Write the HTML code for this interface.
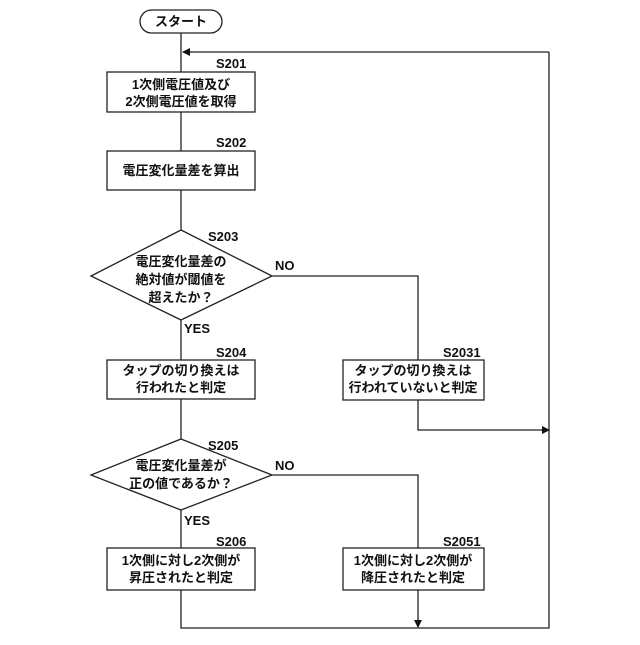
<!DOCTYPE html>
<html><head><meta charset="utf-8"><style>
body{margin:0;background:#fff}
text{font-family:"Liberation Sans","Noto Sans CJK JP",sans-serif;fill:#111}
.j{font-size:13px;font-weight:bold}
.l{font-size:13px;font-weight:bold}
</style></head><body>
<svg width="640" height="640" viewBox="0 0 640 640" xmlns="http://www.w3.org/2000/svg">
<defs><marker id="a" markerWidth="8" markerHeight="8" refX="7" refY="4" orient="auto" markerUnits="userSpaceOnUse"><path d="M0,0 L8,4 L0,8 z" fill="#111"/></marker></defs>
<g stroke="#222" stroke-width="1.3" fill="none">
<rect x="140" y="10" width="82" height="23" rx="11.5" fill="#fff"/>
<line x1="181" y1="33" x2="181" y2="72"/>
<polyline points="549,52 549,52 183,52" marker-end="url(#a)"/>
<rect x="107" y="72" width="148" height="40"/>
<line x1="181" y1="112" x2="181" y2="151"/>
<rect x="107" y="151" width="148" height="39"/>
<line x1="181" y1="190" x2="181" y2="230"/>
<polygon points="181,230 272,276 181,320 91,276"/>
<line x1="181" y1="320" x2="181" y2="360"/>
<polyline points="272,276 418,276 418,360"/>
<rect x="107" y="360" width="148" height="39"/>
<rect x="343" y="360" width="141" height="40"/>
<polyline points="418,400 418,430 549,430" marker-end="url(#a)"/>
<line x1="181" y1="399" x2="181" y2="439"/>
<polygon points="181,439 272,475 181,510 91,475"/>
<line x1="181" y1="510" x2="181" y2="548"/>
<polyline points="272,475 418,475 418,548"/>
<rect x="107" y="548" width="148" height="42"/>
<rect x="343" y="548" width="141" height="42"/>
<polyline points="418,590 418,627" marker-end="url(#a)"/>
<polyline points="181,590 181,628 549,628 549,52"/>
</g>
<text class="j" x="181" y="26" text-anchor="middle">スタート</text>
<text class="l" x="216" y="68">S201</text>
<text class="j" x="181" y="89" text-anchor="middle">1次側電圧値及び</text>
<text class="j" x="181" y="106" text-anchor="middle">2次側電圧値を取得</text>
<text class="l" x="216" y="147">S202</text>
<text class="j" x="181" y="175" text-anchor="middle">電圧変化量差を算出</text>
<text class="l" x="208" y="241">S203</text>
<text class="j" x="181" y="266" text-anchor="middle">電圧変化量差の</text>
<text class="j" x="181" y="284" text-anchor="middle">絶対値が閾値を</text>
<text class="j" x="181" y="302" text-anchor="middle">超えたか？</text>
<text class="l" x="275" y="270">NO</text>
<text class="l" x="184" y="333">YES</text>
<text class="l" x="216" y="357">S204</text>
<text class="j" x="181" y="375" text-anchor="middle">タップの切り換えは</text>
<text class="j" x="181" y="392" text-anchor="middle">行われたと判定</text>
<text class="l" x="443" y="357">S2031</text>
<text class="j" x="413" y="375" text-anchor="middle">タップの切り換えは</text>
<text class="j" x="413" y="392" text-anchor="middle">行われていないと判定</text>
<text class="l" x="208" y="450">S205</text>
<text class="j" x="181" y="470" text-anchor="middle">電圧変化量差が</text>
<text class="j" x="181" y="488" text-anchor="middle">正の値であるか？</text>
<text class="l" x="275" y="470">NO</text>
<text class="l" x="184" y="525">YES</text>
<text class="l" x="216" y="546">S206</text>
<text class="j" x="181" y="565" text-anchor="middle">1次側に対し2次側が</text>
<text class="j" x="181" y="582" text-anchor="middle">昇圧されたと判定</text>
<text class="l" x="443" y="546">S2051</text>
<text class="j" x="413" y="565" text-anchor="middle">1次側に対し2次側が</text>
<text class="j" x="413" y="582" text-anchor="middle">降圧されたと判定</text>
</svg>
</body></html>
